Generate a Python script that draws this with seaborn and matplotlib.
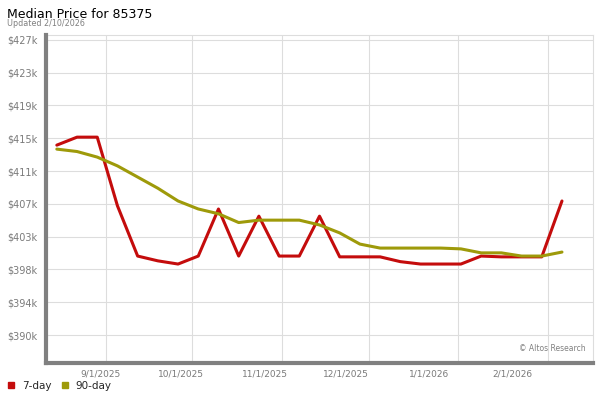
import pandas as pd
import numpy as np
import matplotlib
matplotlib.use("Agg")
import matplotlib.pyplot as plt
from matplotlib.lines import Line2D
import seaborn as sns

sns.set_style("white")
plt.rcParams["font.family"] = ["DejaVu Sans"]

# weekly data points ($k)
dates = pd.date_range("2025-08-15", periods=26, freq="7D")
day7 = [413.8, 414.8, 414.8, 406.2, 399.9, 399.3, 398.9, 399.9, 405.8, 399.9,
        404.9, 399.9, 399.9, 404.9, 399.8, 399.8, 399.8, 399.2, 398.9, 398.9,
        398.9, 399.9, 399.8, 399.8, 399.8, 406.8]
day90 = [413.3, 413.0, 412.3, 411.2, 409.8, 408.4, 406.8, 405.8, 405.2, 404.1,
         404.4, 404.4, 404.4, 403.8, 402.8, 401.4, 400.9, 400.9, 400.9, 400.9,
         400.8, 400.3, 400.3, 399.9, 399.9, 400.4]

ytick_labels = ["$390k", "$394k", "$398k", "$403k", "$407k",
                "$411k", "$415k", "$419k", "$423k", "$427k"]
month_starts = pd.to_datetime(["2025-09-01", "2025-10-01", "2025-11-01",
                               "2025-12-01", "2026-01-01", "2026-02-01"])
xtick_labels = ["9/1/2025", "10/1/2025", "11/1/2025", "12/1/2025", "1/1/2026", "2/1/2026"]
# labels sit a bit left of the month gridlines in the original
label_pos = pd.to_datetime(["2025-08-30", "2025-09-27", "2025-10-26",
                            "2025-11-23", "2025-12-22", "2026-01-20"])

colors = {"7-day": "#C40C0C", "90-day": "#9E9A0A"}

df = pd.DataFrame({"date": list(dates) * 2,
                   "price": day7 + day90,
                   "series": ["7-day"] * len(dates) + ["90-day"] * len(dates)})

fig = plt.figure(figsize=(6, 4), dpi=100)
ax = fig.add_axes([46 / 600, 37 / 400, 547 / 600, 328 / 400])

sns.lineplot(data=df, x="date", y="price", hue="series", palette=colors,
             linewidth=2.2, ax=ax, legend=False, zorder=3)

ax.set_xlim(pd.Timestamp("2025-08-11 06:00"), pd.Timestamp("2026-02-16 18:00"))
ax.set_ylim(386.5, 427.6)

ax.set_yticks(np.linspace(390, 427, 10))
ax.set_yticklabels(ytick_labels)
ax.set_xticks(month_starts)
ax.set_xticklabels([""] * len(month_starts))
ax.set_xticks(label_pos, xtick_labels, minor=True)

ax.tick_params(axis="both", which="both", length=0, colors="#7a7a7a")
ax.tick_params(axis="y", labelsize=7, pad=6)
ax.tick_params(axis="x", which="minor", labelsize=6.5, pad=5)
ax.set_xlabel("")
ax.set_ylabel("")

ax.grid(True, which="major", color="#dddddd", linewidth=0.8)
ax.set_axisbelow(True)

for side in ["top", "right"]:
    ax.spines[side].set_color("#dddddd")
    ax.spines[side].set_linewidth(0.8)
for side in ["left", "bottom"]:
    ax.spines[side].set_color("#808080")
    ax.spines[side].set_linewidth(3)
    ax.spines[side].set_zorder(4)

ax.text(0.987, 0.03, "\u00a9 Altos Research", transform=ax.transAxes,
        ha="right", va="bottom", fontsize=5.5, color="#808080")

fig.text(7 / 600, 1 - 14 / 400, "Median Price for 85375", fontsize=9,
         va="center", ha="left", color="black")
fig.text(7 / 600, 1 - 24 / 400, "Updated 2/10/2026", fontsize=5.8, va="center",
         ha="left", color="#808080")

handles = [Line2D([], [], marker="s", linestyle="", color=c, markersize=4.5)
           for c in colors.values()]
fig.legend(handles, list(colors.keys()), loc="center left",
           bbox_to_anchor=(5 / 600, 1 - 386 / 400), ncol=2, frameon=False,
           fontsize=7.5, handlelength=0.8, handletextpad=0.6, columnspacing=0.9,
           borderaxespad=0, borderpad=0.2)

fig.savefig("out.png", dpi=100)
